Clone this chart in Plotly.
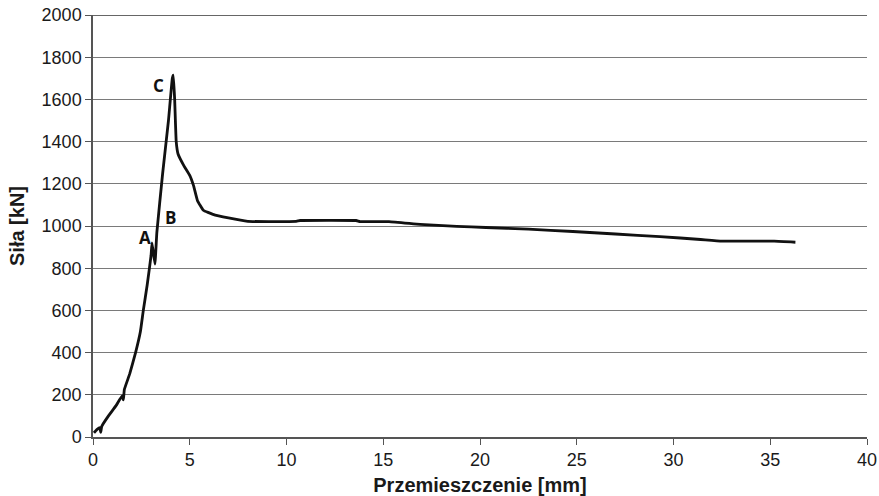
import plotly.graph_objects as go

# Force-displacement curve of the tested specimen
displacement_mm = [0.05, 0.2, 0.35, 0.4, 0.45, 0.8, 1.2, 1.5, 1.57, 1.62, 1.9, 2.2, 2.45, 2.6,
                   2.8, 3.0, 3.05, 3.2, 3.3, 3.6, 3.9, 4.1, 4.15, 4.22, 4.3, 4.4, 4.7, 5.0,
                   5.2, 5.4, 5.7, 6.2, 7.0, 8.0, 10.5, 10.7, 13.6, 13.8, 15.3, 16.9, 18.8,
                   20.3, 22.5, 24.8, 27.0, 29.3, 31.4, 32.5, 35.2, 36.3]
force_kN = [20, 35, 45, 22, 50, 100, 150, 195, 176, 225, 300, 400, 500, 600,
            720, 860, 920, 820, 970, 1250, 1500, 1700, 1715, 1600, 1400, 1340, 1285, 1240,
            1190, 1120, 1075, 1055, 1038, 1022, 1022, 1026, 1026, 1021, 1021, 1008, 998,
            993, 985, 974, 962, 950, 936, 928, 928, 923]

# Characteristic points marked on the curve
point_labels = ["A", "B", "C"]
point_x = [2.69, 4.03, 3.36]
point_y = [945, 1040, 1667]

x_ticks = [0, 5, 10, 15, 20, 25, 30, 35, 40]
y_ticks = [0, 200, 400, 600, 800, 1000, 1200, 1400, 1600, 1800, 2000]

fig = go.Figure()
fig.add_trace(go.Scatter(
    x=displacement_mm, y=force_kN, mode="lines",
    line=dict(color="#111111", width=2.8, shape="spline", smoothing=0.3),
    showlegend=False, hoverinfo="skip",
))

for lab, px, py in zip(point_labels, point_x, point_y):
    fig.add_annotation(x=px, y=py, text="<b>" + lab + "</b>", showarrow=False,
                       font=dict(family="Open Sans, DejaVu Sans, sans-serif", size=17,
                                 color="#111111"),
                       xanchor="center", yanchor="middle")

# darker top border line at 2000
fig.add_shape(type="line", xref="paper", yref="y", x0=0, x1=1, y0=2000, y1=2000,
              line=dict(color="#333333", width=1.6), layer="below")

axis_font = dict(family="Liberation Sans, Arial, sans-serif", size=18, color="#1a1a1a")
title_font = dict(family="Liberation Sans, Arial, sans-serif", size=20, color="#1a1a1a")

fig.update_layout(
    width=879, height=496,
    margin=dict(l=93, r=12, t=15, b=59),
    paper_bgcolor="white", plot_bgcolor="white",
    xaxis=dict(
        range=[0, 40], tickvals=x_ticks, ticktext=[str(v) for v in x_ticks],
        showgrid=False, zeroline=False, showline=True, linecolor="#555555", linewidth=1.5,
        ticks="outside", ticklen=6, tickcolor="#555555", tickwidth=1.3,
        tickfont=axis_font, automargin=False,
        title=dict(text="<b>Przemieszczenie [mm]</b>", font=title_font, standoff=12),
    ),
    yaxis=dict(
        range=[0, 2000], tickvals=y_ticks, ticktext=[str(v) for v in y_ticks],
        showgrid=True, gridcolor="#7a7a7a", gridwidth=1.4,
        zeroline=False, showline=True, linecolor="#555555", linewidth=1.5,
        ticks="outside", ticklen=6, tickcolor="#555555", tickwidth=1.3,
        tickfont=axis_font, automargin=False,
        title=dict(text="<b>Siła [kN]</b>", font=title_font, standoff=12),
    ),
)

fig.write_html("out.html")
